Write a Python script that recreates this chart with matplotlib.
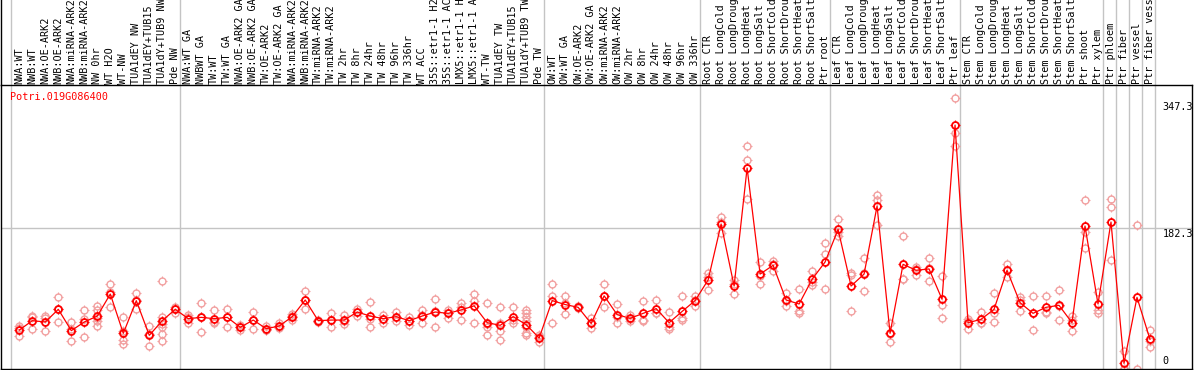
import numpy as np
import matplotlib
matplotlib.use("Agg")
import matplotlib.pyplot as plt
from matplotlib.path import Path
from matplotlib.transforms import blended_transform_factory, offset_copy

gene = "Potri.019G086400"

labels = [
    "NWA:WT", "NWB:WT", "NWA:OE-ARK2", "NWB:OE-ARK2", "NWA:miRNA-ARK2", "NWB:miRNA-ARK2",
    "NW 0hr", "WT H2O", "WT-NW", "TUA1dEY NW", "TUA1dEY+TUB15", "TUA1dY+TUB9 NW", "Pde NW",
    "NWA:WT GA", "NWBWT GA", "TW:WT", "TW:WT GA", "NWA:OE-ARK2 GA", "NWB:OE-ARK2 GA",
    "TW:OE-ARK2", "TW:OE-ARK2 GA", "NWA:miRNA-ARK2", "NWB:miRNA-ARK2", "TW:miRNA-ARK2",
    "TW:miRNA-ARK2", "TW 2hr", "TW 8hr", "TW 24hr", "TW 48hr", "TW 96hr", "TW 336hr",
    "WT ACC", "35S::etr1-1 H2", "35S::etr1-1 AC", "LMX5::etr1-1 H", "LMX5::etr1-1 A",
    "WT-TW", "TUA1dEY TW", "TUA1dEY+TUB15", "TUA1dY+TUB9 TW", "Pde TW",
    "OW:WT", "OW:WT GA", "OW:OE-ARK2", "OW:OE-ARK2 GA", "OW:miRNA-ARK2", "OW:miRNA-ARK2",
    "OW 2hr", "OW 8hr", "OW 24hr", "OW 48hr", "OW 96hr", "OW 336hr",
    "Root CTR", "Root LongCold", "Root LongDroug", "Root LongHeat", "Root LongSalt",
    "Root ShortCold", "Root ShortDrou", "Root ShortHeat", "Root ShortSalt", "Ptr root",
    "Leaf CTR", "Leaf LongCold", "Leaf LongDroug", "Leaf LongHeat", "Leaf LongSalt",
    "Leaf ShortCold", "Leaf ShortDrou", "Leaf ShortHeat", "Leaf ShortSalt", "Ptr leaf",
    "Stem CTR", "Stem LongCold", "Stem LongDroug", "Stem LongHeat", "Stem LongSalt",
    "Stem ShortCold", "Stem ShortDrou", "Stem ShortHeat", "Stem ShortSalt", "Ptr shoot",
    "Ptr xylem", "Ptr phloem", "Ptr fiber", "Ptr vessel", "Ptr fiber vess",
]

# group boundaries (column index)
groups = [0, 13, 41, 53, 63, 73, 84, 85, 86, 87, 88]

means = [
    50.5, 62.6, 60.9, 77.3, 49.7, 60.9, 68.6, 97.1, 46.2, 88.5, 43.6, 62.6, 77.3,
    65.2, 66.9, 65.2, 66.9, 54.0, 63.4, 52.2, 55.7, 67.8, 89.4, 62.6, 63.4, 63.4, 73.8,
    68.6, 65.2, 67.8, 62.6, 68.6, 73.8, 72.1, 76.6, 81.8, 60.0, 56.6, 67.8, 57.4, 40.2,
    88.6, 83.5, 79.9, 59.0, 94.8, 70.4, 65.6, 72.1, 78.2, 60.0, 74.6, 88.6,
    115.3, 187.8, 107.5, 260.4, 123.0, 134.3, 89.4, 84.2, 116.2, 138.6,
    180.9, 107.5, 123.0, 211.1, 46.2, 135.6, 127.9, 129.6, 90.3, 316.0,
    60.0, 64.3, 77.3, 127.9, 85.9, 72.1, 79.9, 82.5, 60.0, 185.2, 84.2,
    190.4, 7.3, 92.8, 38.4,
]

reps = [
    [55.7, 42.7, 53], [68.6, 66.9, 52], [68.6, 66, 48.8], [92.8, 60.9, 78],
    [60.9, 35.8, 52], [76.6, 41.4, 65], [81.6, 76.6, 62.6, 55.7, 66], [110, 80.7, 100],
    [66.9, 37.1, 31.9, 49], [98.8, 77.3, 89], [55.7, 30.2, 45],
    [114.6, 66.9, 55, 45.3, 35.8, 58], [80.7, 73, 78],
    [69.5, 59, 67], [85, 48, 67], [75.8, 60.9, 59], [78.2, 55, 67], [56.6, 50.5, 55],
    [73.8, 52.2, 64], [55.7, 50, 51], [59, 53, 55], [63.4, 71, 69], [100.6, 77.3, 90],
    [62.6, 61, 64], [73, 54, 63], [69.5, 58.5, 62], [78.2, 68.6, 74], [86.7, 54, 65],
    [70.4, 60, 65], [73.8, 62.6, 67], [67.8, 57.4, 62], [76.6, 59, 70], [91.1, 55, 75],
    [76.6, 66, 73], [85.9, 63.4, 80], [97.1, 88.6, 59.4], [85, 54, 43.6, 58],
    [79.9, 48.8, 37.9, 60], [79.9, 59.4, 64], [76.6, 72.1, 66.9, 62, 55, 46.2, 43.6],
    [43.6, 35, 42],
    [110.2, 94.5, 59.4], [94.5, 71, 85], [81, 78.5, 80], [65.6, 52.6, 59],
    [110.2, 79.9, 95], [84.6, 59, 68], [70.4, 61.7, 65], [88.6, 63.4, 62],
    [89.4, 73, 72], [73.8, 52.2, 54], [94.8, 66, 63], [94.5, 81.6, 90],
    [124, 102.5, 119], [196.5, 176.7, 190], [115.3, 97.1, 110], [288.9, 270.8, 219.8],
    [138.6, 110.2, 120], [140.3, 126.5, 136], [98.8, 81.6, 88], [103.2, 75, 72.1],
    [126.5, 109.3, 113], [162.8, 148.8, 103.2],
    [193.9, 172.3, 177], [124.8, 75, 122], [143.6, 100.6, 125], [225.8, 218.9, 186.9],
    [59.4, 35, 45], [172.8, 117.1, 117], [132.2, 122, 130], [144.4, 113.6, 131],
    [120.5, 82.9, 66], [350.6, 306, 288.9],
    [65.2, 52.2, 62], [73.8, 59, 60], [97.9, 72.1, 60.9], [136.5, 119.3, 128],
    [92.8, 75, 90], [94, 50.5, 72], [94, 72.1, 73.8], [102.5, 63.4, 82],
    [68.6, 48.8, 63], [218.9, 177.6, 156.9], [99.7, 76.6, 73],
    [220.7, 209.5, 141.8], [22.9, 0, 0], [186, 0], [50.5, 28.9, 36],
]

ytick_vals = [347.3, 182.3, 0]

W, H = 1194, 370
fig = plt.figure(figsize=(W / 100, H / 100), dpi=100)
ax = fig.add_axes([1 / W, 1 / H, 1190.7 / W, 284 / H])
ax.set_xlim(-0.77, 90.85)
ax.set_ylim(0, 367.9)
ax.set_xticks([])
ax.set_yticks([])
for s in ax.spines.values():
    s.set_linewidth(1.0)
    s.set_color("black")

mono = "DejaVu Sans Mono"
grey = "#c4c4c4"
x = np.arange(len(means)) + 0.64

# tick marks around the circles (the little spikes of the original markers)
spikes = Path([(0, 1), (0, 1.4), (0, -1), (0, -1.4), (1, 0), (1.4, 0), (-1, 0), (-1.4, 0)],
              [Path.MOVETO, Path.LINETO] * 4)

ax.axhline(182.3, color=grey, lw=1.0, zorder=1)
for k in groups:
    ax.axvline(k, 0, 369 / 284, color=grey, lw=1.0, clip_on=False, zorder=1)

trans = blended_transform_factory(ax.transData, ax.transAxes)
ax.plot([-0.77, -0.77], [1, 1.3], color="black", lw=1.0, transform=trans, clip_on=False)

rx = np.concatenate([[x[i]] * len(r) for i, r in enumerate(reps)])
ry = np.concatenate(reps)
rc = "#f2a0a0"
ax.plot(rx, ry, ls="none", marker="o", ms=5.0, mfc="none", mec=rc, mew=1.0, clip_on=False, zorder=2)
ax.plot(rx, ry, ls="none", marker=spikes, ms=7.0, mec=rc, mew=0.8, clip_on=False, zorder=2)

ax.plot(x, means, color="#ff0000", lw=0.9, zorder=3)
ax.plot(x, means, ls="none", marker="o", ms=5.0, mfc="none", mec="#ff0000", mew=1.3, clip_on=False, zorder=4)
ax.plot(x, means, ls="none", marker=spikes, ms=7.0, mec="#ff0000", mew=0.9, clip_on=False, zorder=4)

for i, lab in enumerate(labels):
    ax.text(x[i], 1.0, lab, transform=offset_copy(trans, fig=fig, y=1.5, units="dots"),
            rotation=90, ha="center", va="bottom", family=mono, fontsize=7.3, clip_on=False)

fig.text(10 / W, 1 - 97 / H, gene, color="#ff0000", family=mono, fontsize=7.3, va="center", ha="left")

xt = (1163 - 11) / 13
for v in ytick_vals:
    if v == 0:
        ax.text(xt, v, "0", family=mono, fontsize=7.3, va="bottom", ha="left",
                transform=offset_copy(ax.transData, fig=fig, y=3, units="dots"))
    else:
        ax.text(xt, v, "%.1f" % v, family=mono, fontsize=7.3, va="top", ha="left",
                transform=offset_copy(ax.transData, fig=fig, y=-1, units="dots"))

fig.savefig("out.png", dpi=100)
